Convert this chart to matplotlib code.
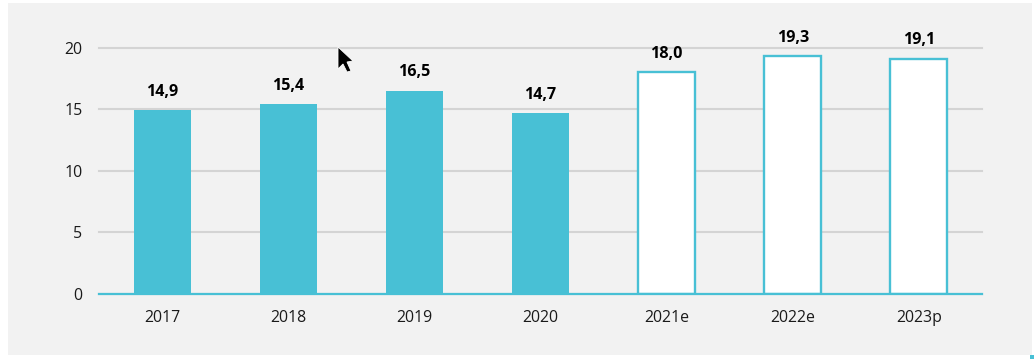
import matplotlib
matplotlib.use("Agg")
import matplotlib.pyplot as plt
from matplotlib.patches import Rectangle, Polygon

categories = ["2017", "2018", "2019", "2020", "2021e", "2022e", "2023p"]
actual_values = [14.9, 15.4, 16.5, 14.7]
forecast_values = [18.0, 19.3, 19.1]
value_labels = ["14,9", "15,4", "16,5", "14,7", "18,0", "19,3", "19,1"]
y_ticks = [0, 5, 10, 15, 20]

W, H = 1034, 359
TEAL = "#48C0D5"
plt.rcParams["font.family"] = ["Open Sans", "DejaVu Sans"]

fig = plt.figure(figsize=(W / 100, H / 100), dpi=100, facecolor="white")

def px_rect(x0, y0, x1, y1, color, z=-1):
    fig.patches.append(Rectangle((x0 / W, 1 - y1 / H), (x1 - x0) / W, (y1 - y0) / H,
                                 transform=fig.transFigure, facecolor=color,
                                 edgecolor="none", zorder=z))

px_rect(8, 3, 1032, 355, "#F2F2F2")
px_rect(1030, 355, W, H, TEAL)

L, R, T, B = 99, 982, 47.7, 293.7
ax = fig.add_axes([L / W, 1 - B / H, (R - L) / W, (B - T) / H])
ax.patch.set_alpha(0)
ax.set_xlim(-0.5, 6.5)
ax.set_ylim(0, 20)

ax.yaxis.grid(True, color="#D4D4D4", linewidth=1.5, zorder=1, clip_on=False)
ax.set_axisbelow(True)
for s in ["top", "left", "right"]:
    ax.spines[s].set_visible(False)
ax.spines["bottom"].set_color(TEAL)
ax.spines["bottom"].set_linewidth(1.6)
ax.spines["bottom"].set_zorder(5)

n = len(actual_values)
bar_w = 57 / 126.1
ax.bar(range(n), actual_values, width=bar_w, color=TEAL, zorder=3)
ax.bar(range(n, n + len(forecast_values)), forecast_values, width=bar_w,
       facecolor="white", edgecolor=TEAL, linewidth=1.7, zorder=3)

for i, (v, lab) in enumerate(zip(actual_values + forecast_values, value_labels)):
    ax.annotate(lab, (i, v), xytext=(0, 10.3), textcoords="offset points", ha="center",
                va="baseline", fontsize=11.6, fontweight="bold", color="black")

ax.set_xticks(range(len(categories)), categories)
ax.set_yticks(y_ticks)
ax.tick_params(axis="both", length=0, labelsize=11.4, labelcolor="#1a1a1a")
ax.tick_params(axis="x", pad=12)
ax.tick_params(axis="y", pad=12)

# mouse pointer captured in the screenshot
cursor_px = [(338, 47), (338, 69), (343, 64), (347, 72), (351, 71), (347, 62), (353, 61)]
fig.patches.append(Polygon([(x / W, 1 - y / H) for x, y in cursor_px], closed=True,
                           transform=fig.transFigure, facecolor="black",
                           edgecolor="white", linewidth=0.6, zorder=10))

fig.savefig("out.png", dpi=100, facecolor="white")
